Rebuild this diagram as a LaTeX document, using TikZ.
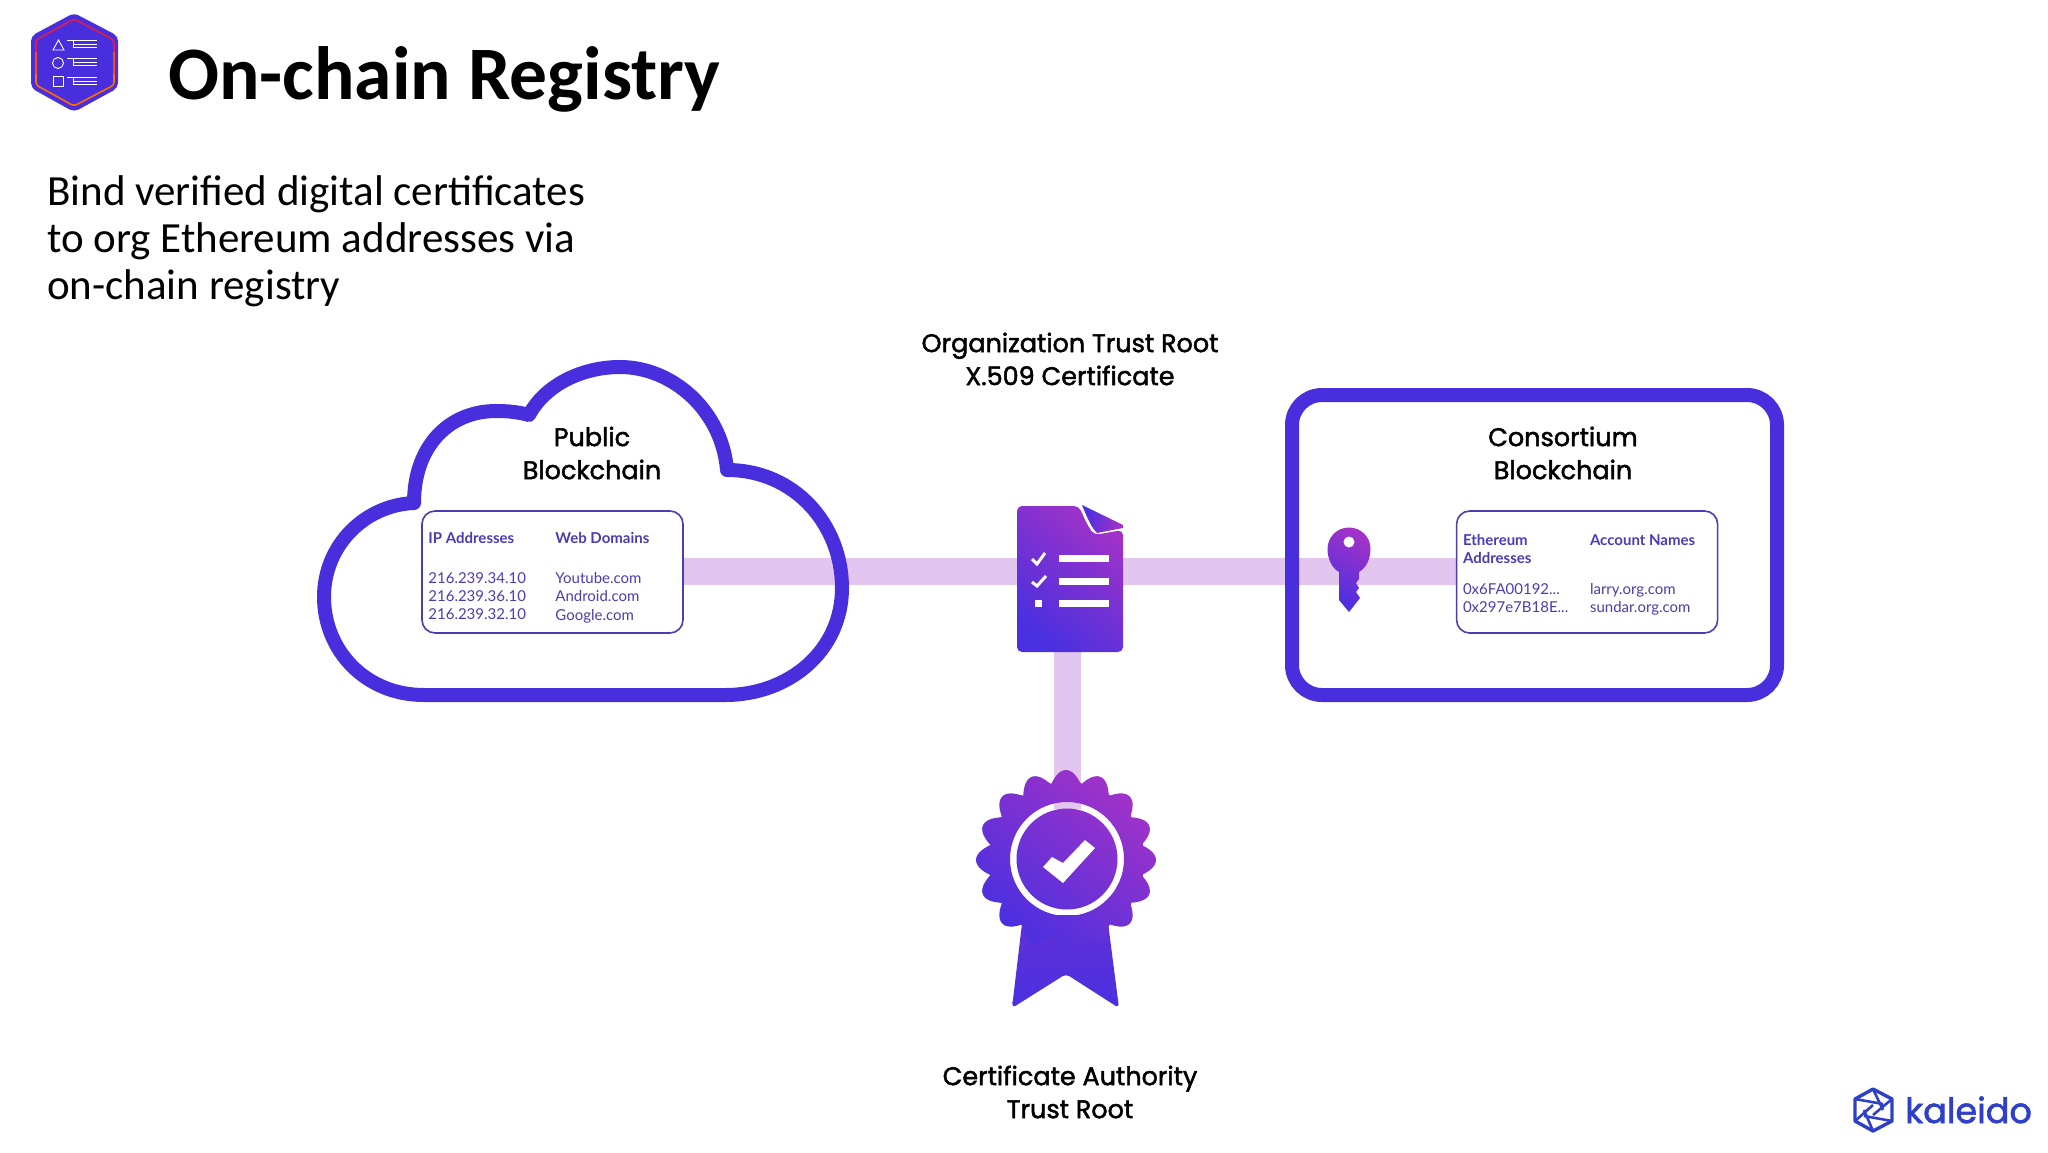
\documentclass[tikz,border=0pt]{standalone}
\usepackage{fontspec}
\setmainfont{Lato}
\newfontfamily\headfont[FakeBold=1.8]{Poppins}
\newfontfamily\slidefont{Carlito}
\usetikzlibrary{positioning,backgrounds}
\definecolor{kIndigo}{HTML}{482EDC}
\definecolor{kViolet}{HTML}{A032C8}
\definecolor{kBlue}{HTML}{4A30E0}
\definecolor{kBar}{HTML}{E3C6EF}
\definecolor{kInk}{HTML}{4A3DB4}
\definecolor{kLogo}{HTML}{2F40C8}
\tikzset{
  tablebox/.style={draw=kInk,line width=1.6pt,fill=white,rounded corners=13pt,
    minimum width=261pt,minimum height=122pt,inner sep=0pt},
  cell/.style={inner sep=0pt,align=left,text=kInk,font=\fontsize{15}{18.3}\selectfont},
  cellhead/.style={cell,font=\fontsize{15}{18.3}\selectfont\bfseries},
  caption/.style={align=center,font=\headfont\fontsize{25.5}{33}\selectfont},
  bar/.style={draw=kBar,line width=27pt},
  frame/.style={draw=kIndigo,line width=14pt,line join=round},
  badge/.style={top color=kViolet,bottom color=kBlue,shading angle=-40},
  tick/.style={draw=white,line width=3pt},
  listline/.style={fill=white},
  tiny/.style={draw=#1,line width=0.9pt},
  swirl/.style={draw=kLogo,line width=3.4pt,line join=round}
}
\begin{document}
\begin{tikzpicture}[x=1pt,y=-1pt]
\useasboundingbox (0,0) rectangle (2048,1152);

\node[anchor=base west,inner sep=0pt,font=\slidefont\fontsize{75.5}{76}\selectfont\bfseries] (title) at (168,99) {On-chain Registry};
\node[anchor=north west,inner sep=0pt,align=left,font=\slidefont\fontsize{43}{47}\selectfont] (intro) at (47,175) {Bind verified digital certificates\\to org Ethereum addresses via\\on-chain registry};

\node[tablebox] at (552.5,572) (iptable) {};
\node[tablebox, right=772pt of iptable] (ethtable) {};

\node[cellhead, below right=22pt and 7pt of iptable.north west] (iphead) {IP Addresses};
\node[cellhead, below right=22pt and 134pt of iptable.north west] (webhead) {Web Domains};
\node[cell, below right=62pt and 7pt of iptable.north west] (iprows) {216.239.34.10\\216.239.36.10\\216.239.32.10};
\node[cell, below right=62pt and 134pt of iptable.north west] (webrows) {Youtube.com\\Android.com\\Google.com};

\node[cellhead, below right=24pt and 7pt of ethtable.north west] (ethhead) {Ethereum\\Addresses};
\node[cellhead, below right=24pt and 134pt of ethtable.north west] (namehead) {Account Names};
\node[cell, below right=73pt and 7pt of ethtable.north west] (ethrows) {0x6FA00192...\\0x297e7B18E...};
\node[cell, below right=73pt and 134pt of ethtable.north west] (namerows) {larry.org.com\\sundar.org.com};

\node[caption] at (592,453) (public) {Public\\Blockchain};
\node[caption] at (1563,453) (consortium) {Consortium\\Blockchain};
\node[caption] at (1070,359) (orgroot) {Organization Trust Root\\X.509 Certificate};
\node[caption] at (1070,1092) (caroot) {Certificate Authority\\Trust Root};

\coordinate (doc) at (1067,640);
\coordinate (seal) at (1067,809);

\begin{pgfonlayer}{background}
\draw[bar,transform canvas={yshift=1pt}] (iptable) -- (ethtable);
\draw[bar] (doc) -- (seal);
\end{pgfonlayer}

\draw[frame] (424,695) -- (725,695) .. controls (790,695) and (842,650) .. (842,588)
  .. controls (842,525) and (795,470) .. (727,470)
  .. controls (722,410) and (672,367) .. (620,367)
  .. controls (582,367) and (545,385) .. (529,415)
  .. controls (518,412) and (508,411) .. (496,411)
  .. controls (450,411) and (414,445) .. (414,503)
  .. controls (365,505) and (324,545) .. (324,597)
  .. controls (324,650) and (365,695) .. (424,695) -- cycle;
\draw[frame,rounded corners=30pt] (1292,395) rectangle (1777,695);

\shade[badge,rounded corners=5pt] (1017,506) -- (1079,506)
  .. controls (1084,518) and (1088,526) .. (1094,535)
  -- (1123,530) -- (1123,652) -- (1017,652) -- cycle;
\shade[top color=kViolet,bottom color=kBlue,shading angle=-110] (1082,505) -- (1123,525) -- (1123,528) -- (1097,533)
  .. controls (1092,528) and (1088,520) .. (1082,505) -- cycle;
\draw[tick] (1032,559) -- (1037,564) -- (1045,553);
\draw[tick] (1032,582) -- (1037,586) -- (1046,576);
\fill[listline] (1035,600) rectangle (1042,607);
\fill[listline] (1059,555) rectangle (1109,562);
\fill[listline] (1059,578) rectangle (1109,585);
\fill[listline] (1059,600) rectangle (1109,607);

\shade[top color=kViolet,bottom color=kBlue,shading angle=-30] (1339,600) -- (1339,572)
  .. controls (1332,568) and (1327.5,559) .. (1327.5,549)
  .. controls (1327.5,537) and (1337,527.5) .. (1349,527.5)
  .. controls (1361,527.5) and (1370.5,537) .. (1370.5,549)
  .. controls (1370.5,559) and (1366,568) .. (1359,572)
  -- (1359,579) -- (1356,583) -- (1359,588) -- (1356,592) -- (1360,598) -- (1349,612) -- cycle;
\fill[white] (1349,542) circle (5.5);

\shade[top color=kIndigo!70!kViolet,bottom color=kBlue,rounded corners=4pt] (1023,915) -- (1012,1008) -- (1066,974) -- (1119,1008) -- (1107,915) -- cycle;
\shade[badge,even odd rule] plot[domain=0:360,samples=240] ({1066+cos(\x)*(77+13*abs(cos(8*\x)))},{860+sin(\x)*(77+13*abs(cos(8*\x)))}) -- cycle
  (1067,859) circle (57) (1067,859) circle (50.5);
\fill[white] (1043,867) -- (1063,883) -- (1095,848) -- (1085,840) -- (1063,863) -- (1052,857) -- cycle;

\fill[kIndigo,rounded corners=5pt] (74,13) -- (118,36) -- (118,88) -- (74,112) -- (31,88) -- (31,36) -- cycle;
\draw[line width=1.6pt,draw=red!60!kViolet!90!orange,rounded corners=3pt] (36,52) -- (36,40) -- (74,19) -- (114,40) -- (114,52);
\draw[line width=1.6pt,draw=orange!85!red,rounded corners=3pt] (36,74) -- (36,85) -- (74,106) -- (114,85) -- (114,74);
\draw[line width=1.6pt,draw=orange!60!red] (36,52) -- (36,74);
\draw[line width=1.6pt,draw=orange!60!red] (114,52) -- (114,74);
\draw[tiny=white] (53,50) -- (58.5,40) -- (64,50) -- cycle;
\draw[tiny=white] (58,63) circle (5.5);
\draw[tiny=white] (53,76) rectangle (63,86);
\draw[tiny=white] (67,40) -- (97,40) (73,40) -- (73,47) (73,44) -- (97,44) (73,47) -- (97,47);
\draw[tiny=white] (67,58) -- (97,58) (73,58) -- (73,65) (73,62) -- (97,62) (73,65) -- (97,65);
\draw[tiny=white] (67,77) -- (97,77) (73,77) -- (73,84) (73,81) -- (97,81) (73,84) -- (97,84);

\draw[swirl] (1873,1089) -- (1892,1099) -- (1892,1121) -- (1873,1131) -- (1855,1121) -- (1855,1099) -- cycle;
\draw[swirl,line width=2.6pt] (1873,1089) -- (1883,1110) (1892,1099) -- (1873,1115) (1892,1121) -- (1864,1116) (1873,1131) -- (1864,1110) (1855,1121) -- (1873,1105) (1855,1099) -- (1883,1104);
\node[anchor=base west,inner sep=0pt,text=kLogo,font=\headfont\fontsize{35}{35}\selectfont] (kaleido) at (1905,1123) {kaleido};
\end{tikzpicture}
\end{document}
